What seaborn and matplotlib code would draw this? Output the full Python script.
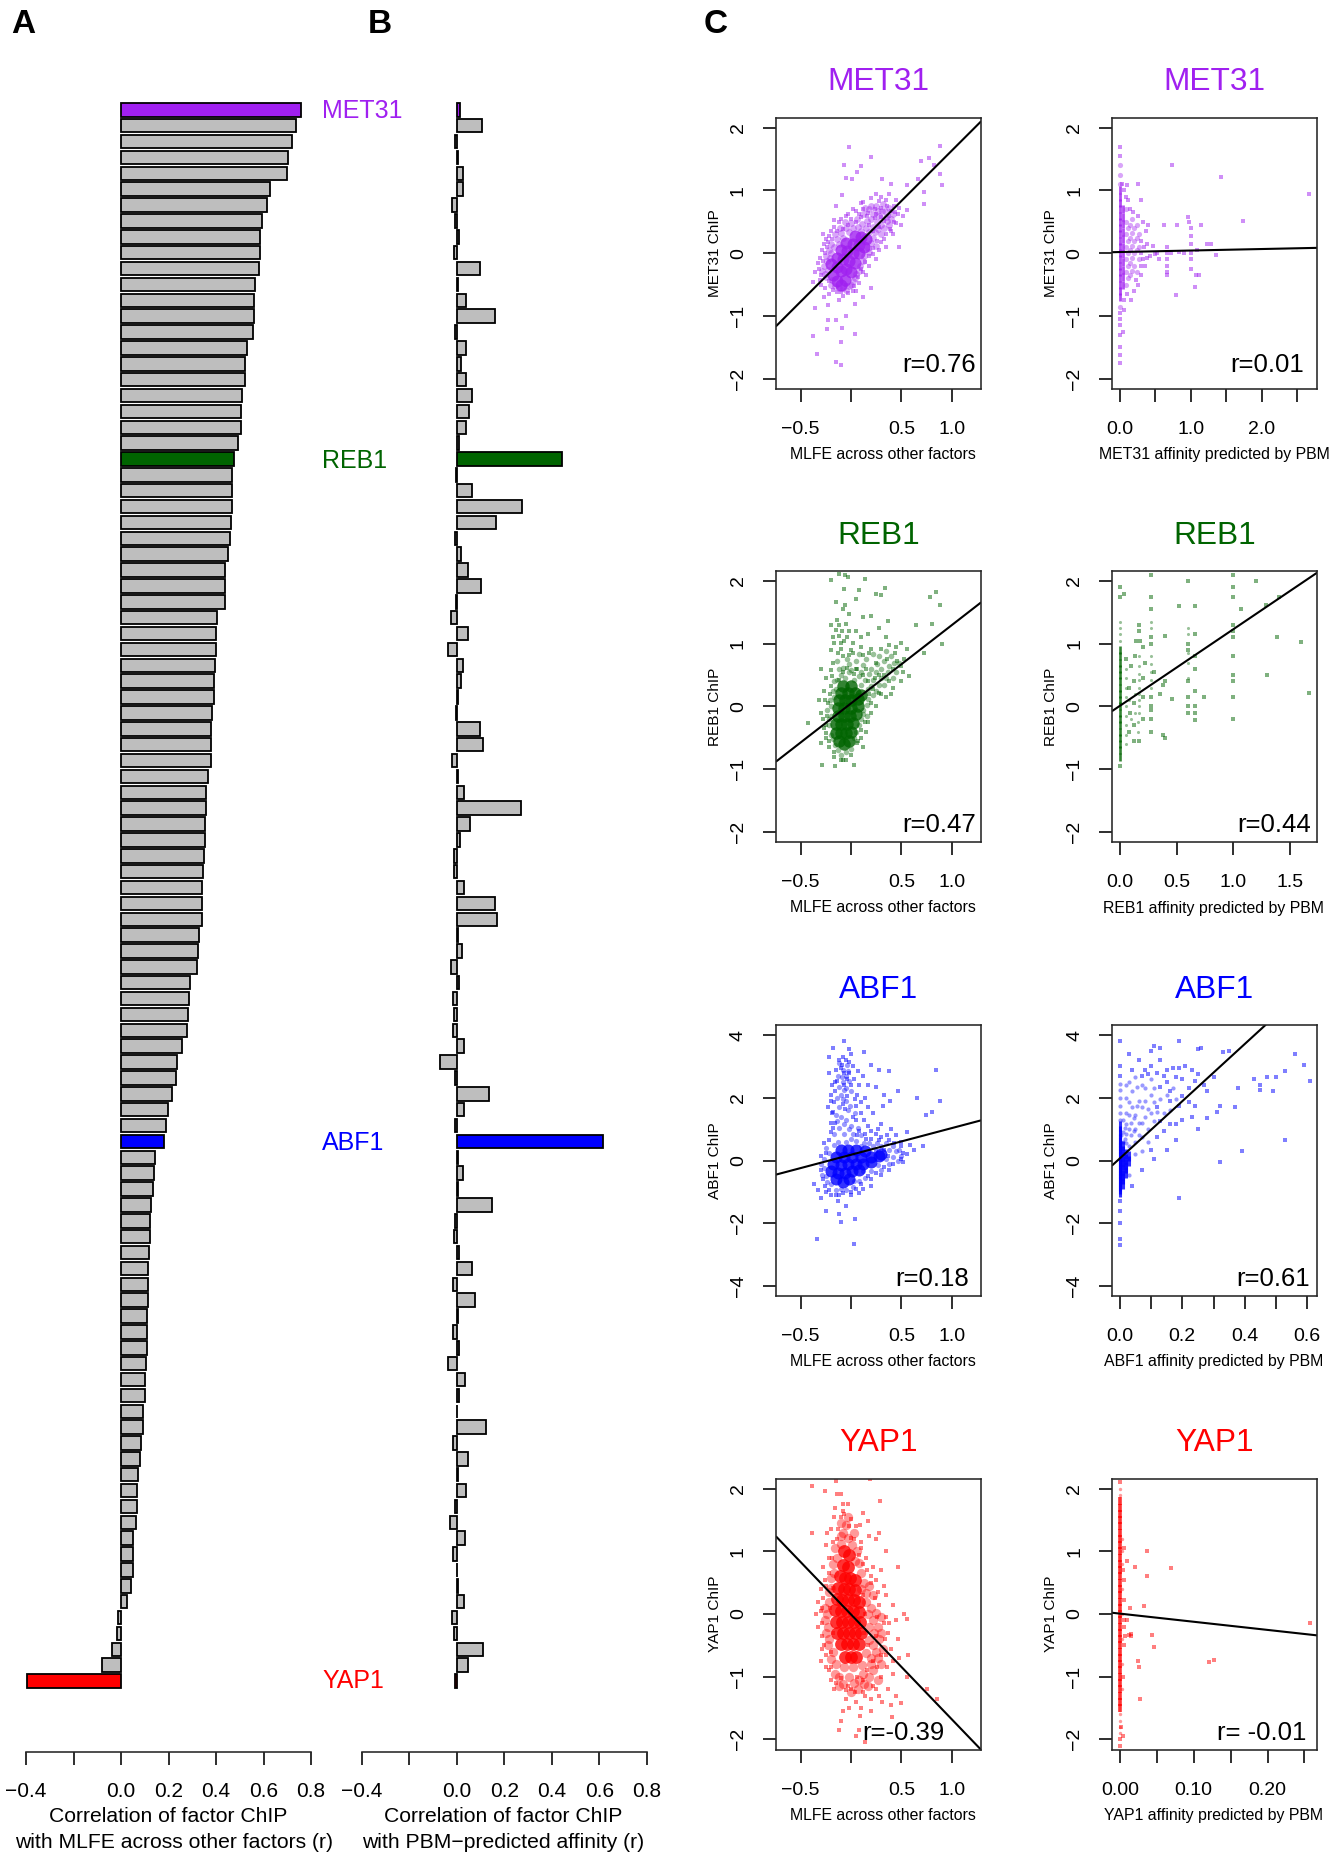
import pandas as pd
import seaborn as sns
import matplotlib
matplotlib.use("Agg")
import matplotlib.pyplot as plt

W, H = 1344, 1854

# panel A, correlation with MLFE, sorted
mlfe_r = [0.759, 0.735, 0.722, 0.704, 0.697, 0.629, 0.614, 0.593, 0.587, 0.585,
          0.582, 0.563, 0.558, 0.558, 0.554, 0.529, 0.523, 0.522, 0.509, 0.507,
          0.505, 0.491, 0.474, 0.469, 0.468, 0.467, 0.463, 0.458, 0.452, 0.439,
          0.439, 0.436, 0.405, 0.401, 0.399, 0.396, 0.392, 0.390, 0.383, 0.381,
          0.381, 0.379, 0.365, 0.359, 0.356, 0.352, 0.352, 0.350, 0.346, 0.343,
          0.341, 0.339, 0.330, 0.326, 0.321, 0.292, 0.286, 0.284, 0.277, 0.255,
          0.237, 0.233, 0.215, 0.197, 0.188, 0.179, 0.142, 0.139, 0.135, 0.128,
          0.122, 0.120, 0.119, 0.115, 0.115, 0.113, 0.111, 0.108, 0.108, 0.104,
          0.102, 0.102, 0.093, 0.091, 0.084, 0.082, 0.071, 0.069, 0.066, 0.064,
          0.051, 0.049, 0.049, 0.044, 0.026, -0.013, -0.016, -0.036, -0.082, -0.394]

# panel B, correlation with PBM affinity, same factor order
pbm_r = [0.012, 0.108, -0.008, 0.006, 0.027, 0.024, -0.020, -0.008, 0.011, -0.011,
         0.098, 0.005, 0.038, 0.162, -0.007, 0.040, 0.016, 0.040, 0.064, 0.053,
         0.038, 0.009, 0.443, -0.005, 0.066, 0.275, 0.166, -0.009, 0.018, 0.049,
         0.102, -0.005, -0.026, 0.046, -0.038, 0.026, 0.016, 0.005, -0.004, 0.098,
         0.109, -0.020, 0.007, 0.031, 0.268, 0.055, 0.015, -0.011, -0.011, 0.029,
         0.162, 0.168, 0.005, 0.022, -0.026, 0.011, -0.015, -0.011, -0.015, 0.029,
         -0.071, -0.009, 0.137, 0.031, -0.007, 0.616, 0.007, 0.027, 0.003, 0.146,
         -0.009, -0.011, 0.011, 0.062, -0.015, 0.078, 0.003, -0.018, 0.009, -0.035,
         0.035, 0.009, 0.002, 0.122, -0.016, 0.049, 0.005, 0.040, -0.009, -0.029,
         0.035, -0.018, 0.001, 0.005, 0.029, -0.020, -0.011, 0.109, 0.047, -0.009]

highlight = {0: "MET31", 22: "REB1", 65: "ABF1", 99: "YAP1"}
colors = {"MET31": "#A020F0", "REB1": "#006400", "ABF1": "#0000FF", "YAP1": "#FF0000", "other": "#BEBEBE"}

# scatter clouds: solid middle, fuzzy edge, lone dots
met31_mlfe_core = [(-0.18,-0.35),(-0.14,-0.45),(-0.1,-0.5),(-0.06,-0.42),(-0.14,-0.22),(-0.2,-0.18),(-0.1,-0.28),(-0.05,-0.25),
    (0.0,-0.3),(-0.14,-0.08),(-0.08,-0.1),(-0.02,-0.12),(0.04,-0.15),(-0.1,0.05),(-0.04,0.03),(0.02,0.0),(0.08,0.0),(-0.05,0.16),
    (0.02,0.14),(0.08,0.13),(0.13,0.1),(0.04,0.28),(0.1,0.26),(0.15,0.22)]
met31_mlfe_halo = [(-0.27,-0.2),(-0.25,-0.05),(-0.22,0.05),(-0.2,0.15),(-0.14,0.22),(-0.1,0.32),(-0.05,0.4),(0.0,0.48),(0.06,0.55),
    (0.12,0.62),(0.18,0.7),(0.25,0.75),(0.32,0.78),(0.38,0.72),(0.2,0.55),(0.28,0.6),(0.35,0.58),(0.42,0.62),(0.15,0.4),(0.22,0.42),
    (0.3,0.45),(0.38,0.45),(0.22,0.25),(0.3,0.3),(0.25,0.12),(0.18,0.02),(0.12,-0.12),(0.08,-0.28),(0.04,-0.4),(0.0,-0.5),(-0.05,-0.58),
    (-0.12,-0.55),(-0.2,-0.5),(-0.25,-0.38),(-0.29,-0.28),(-0.26,-0.33),(-0.23,-0.27),(-0.24,-0.12),(-0.21,-0.08),(-0.19,-0.42),(-0.16,-0.52),
    (-0.08,-0.56),(-0.02,-0.52),(0.02,-0.44),(0.05,-0.33),(0.09,-0.2),(0.13,-0.05),(0.17,0.08),(0.2,0.17),(0.24,0.33),(0.27,0.38),(0.33,0.4),
    (0.36,0.52),(0.4,0.55),(0.31,0.67),(0.27,0.68),(0.22,0.62),(0.16,0.52),(0.11,0.47),(0.07,0.42),(0.02,0.4),(-0.02,0.33),(-0.08,0.24),
    (-0.12,0.15),(-0.17,0.1),(-0.2,0.0),(-0.06,0.5),(-0.11,0.4),(-0.16,0.3),(0.1,0.35),(0.18,0.33),(0.26,0.5),(0.34,0.68),(0.2,0.75),(0.14,0.72)]
met31_mlfe_sparse = [(-0.02,1.69),(0.2,1.53),(-0.07,1.41),(0.1,1.39),(0.06,1.3),(-0.05,1.2),(0.01,1.18),(0.31,1.19),(0.4,1.1),(0.88,1.71),
    (0.77,1.51),(0.69,1.47),(0.82,1.4),(0.88,1.27),(0.9,1.08),(0.66,1.19),(0.72,0.98),(0.55,1.09),(0.72,0.79),(0.55,0.69),(0.48,0.1),
    (-0.09,0.93),(-0.17,0.53),(-0.28,0.31),(-0.38,-0.46),(-0.27,-0.7),(-0.23,-0.83),(-0.12,-0.75),(0.12,-0.7),(0.04,-0.81),(-0.36,-0.88),
    (-0.23,-1.07),(-0.15,-1.07),(-0.05,-1.0),(-0.24,-1.21),(-0.09,-1.2),(0.04,-1.29),(-0.38,-1.32),(-0.1,-1.41),(-0.34,-1.61),(-0.15,-1.74),
    (-0.1,-1.79),(0.48,0.72),(0.45,0.85),(0.38,0.95),(0.3,0.9),(0.25,0.95),(0.1,0.8),(0.02,0.7),(-0.05,0.6),(-0.12,0.5),(-0.2,0.35),
    (-0.27,0.15),(-0.33,-0.15),(-0.36,-0.3),(-0.3,-0.5),(-0.22,-0.65),(-0.08,-0.68),(0.05,-0.6),(0.15,-0.35),(0.25,-0.1),(0.35,0.1),
    (0.42,0.3),(0.5,0.45),(0.52,0.6),(0.2,-0.55),(-0.15,0.75),(-0.32,-0.25),(-0.31,-0.08),(-0.29,0.05),(-0.25,0.22),(-0.22,0.28),(-0.17,0.42),
    (-0.1,0.55),(-0.03,0.62),(0.05,0.68),(0.12,0.82),(0.2,0.88),(0.28,0.83),(0.35,0.85),(0.43,0.75),(0.47,0.62),(0.45,0.48),(0.4,0.35),
    (0.33,0.22),(0.28,0.05),(0.22,-0.02),(0.18,-0.2),(0.12,-0.3),(0.08,-0.47),(0.02,-0.6),(-0.03,-0.64),(-0.14,-0.62),(-0.26,-0.55),(-0.31,-0.42),
    (-0.3,-0.35),(-0.28,-0.12),(-0.26,0.0),(-0.24,0.1),(-0.22,-0.45),(-0.18,-0.58),(-0.1,-0.62),(-0.05,-0.5),(0.03,-0.53),(0.07,-0.38),(0.1,-0.25),(0.14,-0.14),
    (0.18,-0.05),(0.22,0.08),(0.26,0.2),(0.3,0.18),(0.35,0.3),(0.39,0.38),(0.43,0.5),(0.44,0.65),(0.4,0.68),(0.36,0.75),(0.3,0.72),(0.24,0.7),(0.17,0.64),(0.1,0.58),
    (0.05,0.5),(0.0,0.55),(-0.03,0.45),(-0.08,0.38),(-0.14,0.35),(-0.19,0.22),(-0.23,0.18),(0.18,0.45),(0.24,0.56),(0.33,0.52),(0.38,0.6),(0.28,0.42),(0.22,0.35),
    (0.16,0.6),(0.12,0.7),(0.08,0.62),(0.3,0.58),(0.25,0.62)]

met31_pbm_core = [(0.0,-0.7),(0.0,-0.6),(0.0,-0.5),(0.0,-0.4),(0.0,-0.3),(0.0,-0.2),(0.0,-0.1),(0.0,0.0),(0.0,0.1),(0.0,0.2),(0.0,0.3),
    (0.0,0.4),(0.0,0.5),(0.0,0.6),(0.0,0.7),(0.0,0.8),(0.0,0.9),(0.0,1.0),(0.04,-0.5),(0.04,-0.38),(0.04,-0.26),(0.04,-0.14),(0.04,-0.02),(0.04,0.1),
    (0.04,0.22),(0.04,0.34),(0.04,0.46),(0.04,0.58),(0.04,0.7)]
met31_pbm_halo = [(0.09,-0.5),(0.09,-0.3),(0.09,-0.1),(0.09,0.1),(0.09,0.3),(0.09,0.5),(0.09,0.7),(0.14,-0.35),(0.14,-0.15),(0.14,0.05),
    (0.14,0.25),(0.14,0.45),(0.2,-0.2),(0.2,0.0),(0.2,0.2),(0.2,0.4),(0.27,-0.1),(0.27,0.1),(0.27,0.3),(0.0,1.1),(0.0,1.25),(0.0,1.4),(0.0,-0.85),
    (0.11,-0.4),(0.11,-0.2),(0.11,0.0),(0.11,0.2),(0.11,0.4),(0.17,-0.28),(0.17,-0.08),(0.17,0.12),(0.17,0.32),(0.17,0.55),(0.24,-0.3),(0.24,0.05),(0.24,0.25),(0.24,0.45)]
met31_pbm_sparse = [(0.0,1.55),(0.0,1.7),(0.0,-0.95),(0.0,-1.05),(0.0,-1.15),(0.0,-1.3),(0.0,-1.5),(0.0,-1.62),(0.0,-1.75),(0.04,-1.25),
    (0.06,-0.9),(0.03,1.1),(0.1,1.08),(0.12,0.85),(0.25,1.1),(0.3,0.85),(0.25,0.6),(0.33,0.5),(0.37,0.35),(0.38,0.15),(0.33,-0.1),(0.36,-0.2),
    (0.42,-0.05),(0.3,-0.35),(0.25,-0.5),(0.2,-0.6),(0.15,-0.75),(0.5,-0.02),(0.4,0.45),(0.47,0.12),(0.52,0.0),(0.55,-0.1),(0.62,0.45),
    (0.66,0.1),(0.66,0.0),(0.66,-0.1),(0.66,-0.2),(0.66,-0.3),(0.66,-0.35),(0.72,0.0),(0.8,0.45),(0.83,0.02),(0.9,0.0),(0.96,0.58),(0.98,0.5),
    (1.0,0.4),(1.0,0.15),(1.0,0.0),(1.0,-0.1),(1.0,-0.25),(1.0,0.28),(1.07,-0.35),(1.08,0.05),(1.06,-0.54),(1.14,0.45),(1.12,-0.34),(1.23,0.15),
    (1.28,0.15),(1.36,-0.03),(0.79,-0.67),(0.74,1.41),(1.42,1.21),(2.67,0.94),(1.73,0.52),(0.3,0.0),(0.3,0.2),(0.34,0.1),(0.3,-0.2),(0.22,-0.42),(0.18,0.65),
    (0.14,0.7),(0.08,0.9),(0.06,1.0),(0.1,-0.65),(0.06,-0.75),(0.38,-0.08)]

reb1_mlfe_core = [(-0.12,-0.55),(-0.07,-0.6),(-0.02,-0.55),(-0.15,-0.42),(-0.1,-0.42),(-0.05,-0.42),(0.0,-0.4),(-0.15,-0.28),(-0.1,-0.28),
    (-0.04,-0.28),(0.02,-0.26),(-0.13,-0.15),(-0.07,-0.15),(-0.01,-0.15),(0.05,-0.12),(-0.13,-0.02),(-0.07,-0.02),(0.0,-0.02),(0.07,0.0),
    (-0.12,0.1),(-0.06,0.1),(0.0,0.1),(0.07,0.12),(-0.1,0.22),(-0.03,0.22),(0.04,0.22),(0.1,0.18),(-0.08,0.33),(0.0,0.33)]
reb1_mlfe_halo = [(-0.22,-0.3),(-0.2,-0.15),(-0.2,0.0),(-0.17,0.15),(-0.15,0.28),(-0.14,0.42),(-0.06,0.45),(0.03,0.43),(0.1,0.35),(0.17,0.28),
    (0.17,0.12),(0.12,-0.05),(0.1,-0.2),(0.05,-0.4),(0.22,0.42),(0.3,0.45),(0.25,0.25),(0.3,0.6),(0.38,0.65),(0.4,0.8),(0.35,0.45),(0.2,0.6),
    (0.1,0.55),(0.0,0.58),(-0.08,0.62),(-0.14,0.72),(-0.04,0.75),(0.05,0.72),(0.15,0.75),(0.28,0.8),(-0.18,-0.52),(-0.13,-0.7),(-0.05,-0.72),(0.45,0.55),
    (-0.2,-0.45),(-0.22,-0.2),(-0.24,-0.05),(-0.21,0.1),(-0.18,0.25),(-0.17,0.4),(-0.1,0.5),(-0.02,0.55),(0.08,0.48),(0.14,0.42),(0.2,0.32),(0.22,0.18),
    (0.16,0.02),(0.12,-0.12),(0.08,-0.3),(0.03,-0.5),(-0.16,-0.62),(-0.1,-0.78),(0.0,-0.68),(0.25,0.55),(0.33,0.35),(0.37,0.55),(0.43,0.7),(0.33,0.72),
    (0.26,0.68),(0.18,0.52),(0.12,0.66),(-0.12,0.6),(-0.02,0.68),(0.08,0.83),(0.22,0.83),(0.35,0.88),(0.42,0.45),(0.48,0.7),(0.28,0.35),(0.16,-0.15)]
reb1_mlfe_sparse = [(-0.2,2.02),(-0.12,2.12),(-0.06,2.1),(-0.03,2.06),(0.14,2.03),(-0.07,1.88),(0.08,1.85),(0.25,1.8),(0.34,1.89),(0.3,1.77),
    (0.78,1.75),(0.84,1.82),(0.88,1.62),(0.05,1.72),(-0.15,1.67),(-0.06,1.62),(-0.08,1.55),(-0.02,1.47),(0.12,1.43),(0.2,1.45),(0.37,1.37),(0.64,1.3),
    (0.8,1.31),(0.9,1.0),(0.72,0.85),(0.55,0.92),(0.5,1.02),(0.35,1.1),(0.28,1.25),(0.17,1.15),(-0.2,1.3),(-0.12,1.3),(-0.05,1.32),(-0.02,1.2),
    (-0.18,1.1),(-0.12,1.12),(-0.07,1.05),(0.02,1.02),(0.1,1.1),(-0.17,1.02),(-0.2,0.9),(-0.1,0.92),(0.0,0.9),(0.1,0.95),(0.2,0.92),(0.38,0.98),
    (0.45,0.95),(0.52,0.55),(0.57,0.48),(0.5,0.4),(-0.3,0.6),(-0.25,0.45),(-0.32,0.1),(-0.43,-0.27),(-0.3,-0.1),(-0.27,-0.35),(-0.3,-0.58),
    (-0.22,-0.65),(-0.29,-0.93),(-0.16,-0.95),(-0.05,-0.85),(0.03,-0.94),(-0.17,-0.8),(0.1,-0.5),(0.17,-0.25),(0.12,-0.65),(0.25,0.0),(0.35,0.15),(0.42,0.3),
    (-0.15,1.22),(-0.09,1.2),(-0.14,1.38),(-0.1,1.02),(-0.04,1.1),(0.05,1.2),(-0.27,0.25),(-0.26,0.1),(-0.28,-0.2),(-0.25,-0.5),(-0.1,-0.85),(0.07,-0.55),
    (0.15,-0.4),(0.2,-0.1),(0.3,0.2),(0.4,0.2),(0.5,0.65),(0.53,0.75),(-0.25,-0.3),(-0.24,-0.15),(-0.23,0.05),(-0.21,0.2),(-0.2,0.32),(-0.19,0.48),(-0.12,0.42),
    (-0.08,0.55),(-0.04,0.62),(0.03,0.52),(0.06,0.6),(0.12,0.5),(0.17,0.4),(0.22,0.28),(0.28,0.22),(0.33,0.5),(0.38,0.4),(0.42,0.6),(0.46,0.72),(0.44,0.85),(0.36,0.75),
    (0.3,0.92),(0.25,0.7),(0.18,0.85),(0.12,0.82),(0.02,0.85),(-0.08,0.8),(-0.13,0.85),(-0.18,0.7),(-0.2,0.58),(0.2,0.05),(0.14,-0.25),(0.1,-0.38),(0.06,-0.58),(0.0,-0.78),
    (-0.08,-0.85),(-0.17,-0.72),(-0.22,-0.55),(-0.25,-0.42),(0.24,0.45),(0.15,0.6),(0.28,0.5),(-0.02,0.82),(0.05,0.6),(0.18,0.2)]

reb1_pbm_core = [(0.0,-0.8),(0.0,-0.7),(0.0,-0.6),(0.0,-0.5),(0.0,-0.4),(0.0,-0.3),(0.0,-0.2),(0.0,-0.1),(0.0,0.0),(0.0,0.1),(0.0,0.2),(0.0,0.3),
    (0.0,0.4),(0.0,0.5),(0.0,0.6),(0.0,0.7),(0.0,0.8),(0.0,0.9)]
reb1_pbm_halo = [(0.05,-0.6),(0.05,-0.45),(0.05,-0.3),(0.05,-0.15),(0.05,0.0),(0.05,0.15),(0.05,0.3),(0.05,0.45),(0.05,0.6),(0.16,-0.4),(0.16,-0.25),(0.17,-0.1),
    (0.17,-0.0),(0.17,0.1),(0.17,0.2),(0.17,0.3),(0.17,0.42),(0.17,0.52),(0.17,0.65),(0.17,0.8),(0.27,0.3),(0.27,0.42),(0.27,0.55),(0.27,0.68),(0.27,0.8),(0.27,1.25),
    (0.27,1.35),(0.6,0.7),(0.6,0.85),(0.6,1.15),(0.6,1.25),(0.6,0.45),(0.0,1.05),(0.0,1.15),(0.0,1.25),(0.0,1.35),(0.08,0.1),(0.1,-0.2),(0.13,0.2),(0.13,-0.1)]
reb1_pbm_sparse = [(0.0,-0.95),(0.0,1.75),(0.04,1.8),(0.05,0.75),(0.08,-0.4),(0.1,0.65),(0.12,0.4),(0.12,0.05),(0.12,-0.3),(0.12,-0.55),(0.13,0.8),
    (0.14,1.05),(0.17,1.2),(0.17,-0.55),(0.2,0.45),(0.2,0.15),(0.2,-0.2),(0.22,0.7),(0.27,-0.4),(0.27,-0.2),(0.27,0.0),(0.27,0.15),(0.27,1.0),(0.27,1.75),
    (0.27,2.1),(0.27,1.55),(0.3,0.55),(0.35,0.2),(0.38,-0.45),(0.4,0.4),(0.4,1.12),(0.38,0.35),(0.46,0.12),(0.52,1.6),(0.6,2.0),(0.6,0.4),(0.6,0.15),
    (0.6,0.0),(0.6,-0.1),(0.6,1.0),(0.6,0.9),(0.66,0.25),(0.66,-0.1),(0.66,-0.22),(0.66,0.0),(0.66,0.6),(0.66,1.15),(0.66,1.6),(0.74,0.15),(0.66,0.8),
    (1.0,2.1),(1.0,1.9),(1.0,1.75),(1.0,1.2),(1.0,0.8),(1.0,0.5),(1.0,0.4),(1.0,0.15),(1.0,-0.2),(1.3,0.5),(1.07,1.55),(1.2,2.0),(1.29,1.62),(1.38,1.1),
    (1.4,1.75),(1.6,1.03),(1.67,0.22),(0.0,1.9),(0.17,1.3),(0.4,-0.5),(0.08,0.3),(0.09,-0.1),(0.18,1.05),(0.2,0.95),(0.27,-0.05),(0.27,1.1),(1.0,1.3),(1.0,1.1)]

abf1_mlfe_core = [(-0.15,-0.6),(-0.08,-0.7),(-0.02,-0.6),(-0.2,-0.35),(-0.13,-0.4),(-0.06,-0.4),(0.01,-0.35),(0.08,-0.3),(-0.18,-0.12),(-0.1,-0.15),
    (-0.03,-0.12),(0.05,-0.1),(0.12,-0.1),(0.2,-0.05),(-0.15,0.1),(-0.07,0.1),(0.01,0.1),(0.1,0.1),(0.2,0.12),(0.28,0.15),(-0.1,0.35),(-0.03,0.35),
    (0.05,0.32),(0.14,0.3),(0.3,0.22)]
abf1_mlfe_halo = [(-0.08,2.9),(-0.05,2.7),(-0.08,2.5),(-0.05,2.3),(-0.1,2.1),(-0.05,1.9),(-0.12,1.7),(-0.03,1.6),(-0.1,1.4),(-0.05,1.3),(0.0,1.1),
    (-0.12,1.05),(-0.07,0.85),(0.02,0.85),(-0.13,0.6),(-0.05,0.6),(0.05,0.62),(0.13,0.55),(0.22,0.45),(0.3,0.45),(0.38,0.35),(0.45,0.3),(0.42,0.1),
    (0.35,0.05),(0.27,-0.15),(0.12,-0.35),(0.03,-0.65),(-0.1,-0.9),(-0.2,-0.75),(-0.25,-0.5),(-0.27,-0.25),(-0.22,0.25),
    (-0.12,3.1),(-0.04,3.05),(-0.03,2.85),(-0.13,2.7),(-0.09,2.65),(-0.02,2.55),(-0.12,2.35),(-0.07,2.25),(0.0,2.2),(-0.14,2.0),(-0.08,1.95),(-0.01,1.75),
    (0.04,1.5),(-0.15,1.45),(-0.14,1.25),(-0.07,1.15),(-0.02,1.0),(0.07,1.05),(0.1,0.8),(-0.17,0.85),(-0.17,0.5),(0.0,0.7),(0.1,0.45),(0.18,0.55),(0.26,0.55),
    (0.35,0.55),(0.42,0.45),(0.48,0.35),(0.5,0.15),(0.47,0.0),(0.38,-0.1),(0.3,-0.3),(0.2,-0.35),(0.14,-0.55),(0.08,-0.65),(0.02,-0.85),(-0.05,-0.95),
    (-0.15,-0.95),(-0.24,-0.7),(-0.29,-0.45),(-0.3,-0.1),(-0.27,0.05),(-0.25,0.4)]
abf1_mlfe_sparse = [(-0.07,3.8),(-0.18,3.6),(-0.02,3.55),(0.0,3.4),(0.13,3.45),(-0.22,3.3),(-0.12,3.2),(0.02,3.0),(-0.15,2.9),(-0.22,2.8),(0.2,3.05),
    (0.28,2.9),(0.38,2.85),(0.84,2.9),(-0.16,2.5),(0.03,2.6),(0.12,2.7),(0.17,2.4),(0.25,2.35),(-0.2,2.1),(0.06,2.1),(0.14,2.0),(0.33,2.1),(0.47,2.2),
    (0.39,1.9),(0.65,1.98),(0.88,1.9),(0.8,1.55),(0.74,1.45),(-0.23,1.7),(-0.16,1.2),(0.05,1.75),(0.13,1.3),(0.22,1.5),(0.32,1.75),(0.3,1.15),(0.4,1.0),
    (0.2,0.95),(0.45,0.8),(0.55,0.9),(0.58,0.5),(0.62,0.35),(0.71,0.45),(0.3,0.75),(-0.2,0.9),(-0.27,0.55),(-0.3,0.15),(-0.37,-0.75),(-0.33,-0.95),
    (-0.3,-1.2),(-0.2,-1.1),(-0.13,-1.3),(-0.05,-1.45),(-0.25,-1.6),(-0.12,-1.7),(0.04,-1.85),(-0.1,-1.95),(-0.34,-2.5),(0.03,-2.65),(0.0,-1.0),(0.12,-0.9),
    (0.2,-0.6),(0.3,-0.45),(0.38,-0.3),(0.52,-0.05),(0.55,0.2),(-0.19,2.4),(-0.02,3.15),(0.07,2.85),(0.08,2.4),(0.1,1.85),(0.17,1.7),(0.17,1.1),(0.27,1.0),
    (-0.19,1.5),(-0.2,1.9),(0.1,1.5),(0.25,0.85),(0.36,0.8),(0.5,0.6),(-0.12,-1.1),(-0.25,-1.0),(0.08,-1.05),(0.2,-0.8),(-0.3,-0.3),(-0.28,-0.6),(-0.26,-0.8),(-0.22,-0.95),
    (-0.15,-1.1),(-0.08,-1.05),(0.0,-1.1),(0.05,-0.9),(0.1,-0.75),(0.17,-0.5),(0.25,-0.4),(0.33,-0.2),(0.42,-0.1),(0.5,0.05),(0.52,0.25),(0.5,0.45),(0.43,0.55),(0.38,0.65),
    (0.28,0.65),(0.2,0.7),(0.14,0.85),(0.08,0.95),(0.05,1.3),(0.02,1.4),(0.04,1.95),(0.0,2.4),(-0.02,2.8),(-0.08,3.3),(-0.05,3.2),(-0.1,2.95),(-0.14,2.55),(-0.16,2.2),
    (-0.17,1.85),(-0.18,1.55),(-0.2,1.2),(-0.18,1.05),(-0.22,0.65),(-0.25,0.25),(-0.06,1.65),(-0.08,1.8),(-0.04,2.05),(-0.07,2.4),(-0.04,2.6),(-0.07,2.8),(-0.09,3.05),
    (0.06,0.8),(0.15,0.7),(0.25,0.3),(0.33,0.35),(0.37,0.15)]

abf1_pbm_core = [(0.0,-1.0),(0.0,-0.9),(0.0,-0.8),(0.0,-0.7),(0.0,-0.6),(0.0,-0.5),(0.0,-0.4),(0.0,-0.3),(0.0,-0.2),(0.0,-0.1),(0.0,0.0),(0.0,0.1),(0.0,0.2),(0.0,0.3),(0.0,0.4),
    (0.0,0.5),(0.0,0.6),(0.0,0.7),(0.0,0.8),(0.0,0.95),(0.0,1.1),(0.01,-0.75),(0.01,-0.6),(0.01,-0.45),(0.01,-0.3),(0.01,-0.15),(0.01,0.0),(0.01,0.15),(0.01,0.3),(0.01,0.45),
    (0.02,-0.4),(0.02,-0.25),(0.02,-0.1),(0.02,0.05),(0.02,0.2),(0.03,0.0),(0.03,0.15)]
abf1_pbm_halo = [(0.0,1.3),(0.0,1.5),(0.0,1.75),(0.0,2.0),(0.0,2.25),(0.01,0.6),(0.01,0.9),(0.01,1.3),(0.02,0.55),(0.02,0.85),(0.02,1.15),(0.02,1.5),
    (0.02,2.0),(0.03,-0.45),(0.03,0.45),(0.035,0.8),(0.035,1.2),(0.04,1.7),(0.04,2.2),(0.05,0.2),(0.05,0.6),(0.05,1.0),(0.05,1.45),(0.06,1.9),(0.07,0.3),
    (0.07,0.75),(0.07,1.2),(0.07,1.7),(0.07,2.4),(0.09,0.6),(0.09,1.0),(0.1,1.5),(0.1,2.1),(0.1,2.6),(0.005,0.8),(0.015,0.7),(0.015,1.05),(0.03,1.0),(0.03,1.45),
    (0.03,1.85),(0.045,0.95),(0.045,1.35),(0.055,1.75),(0.055,2.35),(0.06,0.8),(0.06,1.2),(0.08,1.4),(0.08,1.9),(0.08,2.3),(0.09,1.65),(0.11,1.25),(0.11,1.85),
    (0.11,2.3),(0.12,1.55),(0.13,1.95),(0.14,1.5),(0.15,2.1),(0.16,1.6),(0.17,2.3),(0.18,1.95),(0.03,2.5),(0.05,2.65),(0.02,2.4),(0.0,2.45)]
abf1_pbm_sparse = [(0.0,3.8),(0.0,3.0),(0.0,2.7),(0.0,-1.3),(0.0,-1.6),(0.0,-2.0),(0.0,-2.5),(0.0,-2.7),(0.04,-0.8),(0.03,3.4),(0.06,3.2),(0.08,2.9),(0.1,3.5),
    (0.11,3.65),(0.13,3.6),(0.13,3.2),(0.12,2.8),(0.15,2.9),(0.17,2.95),(0.19,2.95),(0.21,3.0),(0.23,2.9),(0.25,2.75),(0.18,2.65),(0.15,2.5),(0.13,2.35),
    (0.19,3.8),(0.25,3.55),(0.26,3.6),(0.33,3.45),(0.35,3.5),(0.3,2.65),(0.28,2.2),(0.22,2.3),(0.2,2.05),(0.16,1.9),(0.12,1.7),(0.13,1.25),(0.16,1.15),
    (0.2,1.3),(0.23,1.4),(0.28,1.35),(0.31,1.55),(0.32,1.75),(0.37,1.7),(0.38,2.3),(0.43,2.6),(0.45,2.4),(0.47,2.65),(0.5,2.65),(0.53,2.85),(0.56,3.4),(0.59,3.05),
    (0.61,2.55),(0.49,2.2),(0.45,2.25),(0.12,0.75),(0.15,0.35),(0.18,0.65),(0.11,0.05),(0.07,-0.3),(0.19,-1.2),(0.32,-0.05),(0.39,0.3),(0.53,0.65),(0.25,1.0),(0.1,3.0),
    (0.04,2.9),(0.07,2.7),(0.09,2.75),(0.14,2.7),(0.16,2.2),(0.19,1.75),(0.22,1.85),(0.24,2.55),(0.2,2.6),(0.27,2.4),(0.24,1.75),(0.18,1.15),(0.14,0.95),(0.1,0.35)]

yap1_mlfe_core = [(-0.07,1.0),(-0.02,0.95),(-0.08,0.78),(-0.03,0.75),(-0.11,0.6),(-0.06,0.58),(-0.01,0.58),(0.04,0.55),(-0.13,0.42),(-0.07,0.4),(-0.02,0.4),
    (0.04,0.38),(-0.14,0.24),(-0.09,0.22),(-0.03,0.22),(0.03,0.22),(0.08,0.2),(-0.16,0.06),(-0.1,0.05),(-0.04,0.05),(0.02,0.05),(0.08,0.04),(-0.15,-0.12),(-0.09,-0.12),
    (-0.03,-0.12),(0.03,-0.12),(0.09,-0.13),(-0.14,-0.3),(-0.08,-0.3),(-0.02,-0.3),(0.04,-0.3),(0.1,-0.3),(-0.1,-0.48),(-0.04,-0.48),(0.02,-0.48),(0.08,-0.48),
    (-0.06,-0.68),(0.0,-0.68),(0.05,-0.68)]
yap1_mlfe_halo = [(-0.08,1.3),(-0.03,1.22),(-0.1,1.12),(0.01,1.1),(-0.14,0.9),(0.04,0.85),(-0.17,0.65),(0.1,0.65),(-0.2,0.42),(0.1,0.4),(-0.22,0.2),(0.15,0.2),
    (-0.24,0.0),(0.17,0.0),(0.25,0.02),(-0.23,-0.2),(0.18,-0.2),(0.27,-0.2),(-0.22,-0.4),(0.18,-0.42),(0.28,-0.4),(-0.18,-0.6),(0.15,-0.62),(0.25,-0.6),(-0.15,-0.8),
    (-0.07,-0.85),(0.02,-0.85),(0.11,-0.82),(0.2,-0.8),(-0.12,-1.0),(-0.02,-1.0),(0.08,-1.05),(0.18,-1.0),(0.3,-0.8),(-0.05,1.42),(-0.1,1.25),(0.03,1.3),(-0.16,1.05),
    (0.06,1.0),(-0.18,0.8),(0.08,0.82),(0.13,0.5),(-0.2,0.58),(-0.22,0.35),(0.15,0.33),(0.2,0.1),(-0.26,0.1),(0.22,-0.1),(-0.26,-0.1),(0.23,-0.3),(-0.25,-0.3),(0.22,-0.5),
    (-0.23,-0.5),(-0.2,-0.72),(0.2,-0.7),(0.12,-0.95),(0.27,-0.7),(-0.16,-0.95),(0.03,-1.1),(-0.08,-1.12),(0.13,-1.12),(0.22,-0.9),(0.3,-0.3),(0.32,-0.55),(0.3,-0.05),
    (0.18,0.45),(0.22,0.3),(-0.1,1.45),(-0.03,1.55),(0.0,-1.25),(-0.12,-1.15),(0.07,-1.2),(0.17,-1.15),(0.27,-1.05)]
yap1_mlfe_sparse = [(-0.39,2.05),(-0.15,2.12),(0.19,2.15),(-0.26,1.97),(-0.14,1.92),(-0.1,1.92),(-0.08,1.75),(-0.16,1.7),(-0.03,1.75),(0.29,1.8),(0.12,1.62),(-0.17,1.55),
    (-0.1,1.55),(0.0,1.52),(-0.2,1.35),(-0.02,1.4),(0.17,1.48),(0.09,1.42),(-0.39,1.3),(-0.24,1.3),(0.28,1.3),(0.18,1.25),(-0.25,1.1),(0.1,1.15),(0.25,1.2),(0.35,1.0),
    (-0.28,0.75),(0.15,0.9),(0.22,0.75),(0.3,0.7),(-0.3,0.4),(0.25,0.55),(0.33,0.45),(0.47,0.75),(0.35,0.3),(-0.33,0.2),(0.42,0.15),(-0.35,0.0),(0.53,0.0),(0.35,-0.05),
    (0.45,-0.1),(0.55,-0.08),(-0.33,-0.2),(0.37,-0.3),(0.47,-0.4),(0.4,-0.55),(-0.29,-0.55),(-0.3,-0.75),(0.35,-0.65),(0.48,-0.7),(0.56,-0.65),(-0.2,-1.05),(0.42,-0.95),
    (0.55,-1.0),(-0.17,-1.2),(0.0,-1.2),(0.12,-1.25),(0.25,-1.2),(0.37,-1.2),(0.45,-1.3),(-0.05,-1.35),(0.05,-1.4),(0.2,-1.35),(0.31,-1.4),(0.5,-1.42),(0.4,-1.45),
    (-0.08,-1.55),(0.09,-1.62),(0.2,-1.55),(0.41,-1.65),(0.08,-1.85),(-0.1,-1.7),(-0.12,-1.85),(0.14,-2.05),(0.05,-1.95),(0.85,-1.35),(0.75,-1.2),(-0.28,0.25),(-0.3,0.05),
    (-0.29,-0.35),(-0.26,0.55),(-0.22,0.9),(0.2,0.6),(0.28,0.15),(0.38,-0.15),(0.42,-0.75),(0.3,-1.0),(-0.22,-0.9),(-0.25,-0.65),(0.1,-1.5),(-0.02,-1.5),(0.28,-1.3),(0.14,-1.3),
    (-0.13,1.35),(-0.07,1.6),(-0.14,1.2),(-0.18,1.15),(0.03,1.2),(0.05,1.4),(0.1,1.05),(0.12,0.8),(0.16,0.7),(0.2,0.5),(0.24,0.25),(0.27,0.35),(0.26,-0.05),(0.33,-0.15),
    (0.34,-0.4),(0.3,-0.65),(0.36,-0.85),(0.26,-0.85),(0.22,-1.15),(0.12,-1.05),(0.04,-1.25),(-0.05,-1.22),(-0.15,-1.1),(-0.2,-0.85),(-0.25,-0.85),(-0.27,-0.5),(-0.29,-0.15),
    (-0.29,0.1),(-0.25,0.45),(-0.22,0.65),(-0.19,0.9),(-0.08,1.65),(0.0,1.22),(0.08,0.95),(0.25,-0.35),(0.17,-0.5),(0.22,-0.75),(0.16,-0.9),(0.06,-1.0),(-0.03,-1.15),(-0.1,-1.02),
    (-0.2,-0.6),(-0.18,-0.3),(-0.21,0.1),(-0.18,0.42),(0.14,0.0),(0.13,-0.3),(0.12,0.3)]

yap1_pbm_core = [(0.0,-1.5),(0.0,-1.4),(0.0,-1.3),(0.0,-1.2),(0.0,-1.1),(0.0,-1.0),(0.0,-0.9),(0.0,-0.8),(0.0,-0.7),(0.0,-0.6),(0.0,-0.5),(0.0,-0.4),(0.0,-0.3),(0.0,-0.2),(0.0,-0.1),
    (0.0,0.0),(0.0,0.1),(0.0,0.2),(0.0,0.3),(0.0,0.4),(0.0,0.5),(0.0,0.6),(0.0,0.7),(0.0,0.8),(0.0,0.9),(0.0,1.0),(0.0,1.1),(0.0,1.2),(0.0,1.3),(0.0,1.4),(0.0,1.5),(0.0,1.6),(0.0,1.7),(0.0,1.8)]
yap1_pbm_halo = [(0.0,-1.6),(0.0,-1.7),(0.0,-1.8),(0.0,-1.9),(0.0,1.9),(0.0,2.0),(0.003,1.0),(0.003,0.4),(0.003,0.0),(0.003,-0.4),(0.003,-0.8),(0.003,0.8),(0.003,-1.2),(0.003,1.2)]
yap1_pbm_sparse = [(0.0,2.1),(0.0,-2.0),(0.0,-2.1),(0.002,-1.8),(0.004,-1.0),(0.004,0.7),(0.005,0.55),(0.005,0.22),(0.005,1.05),(0.006,-0.1),(0.006,-0.5),(0.005,-0.2),
    (0.007,-0.35),(0.01,0.85),(0.01,-0.1),(0.012,-0.33),(0.013,0.1),(0.015,-0.32),(0.015,-0.35),(0.021,0.75),(0.032,0.13),(0.036,1.0),(0.036,0.6),(0.044,-0.33),(0.046,-0.53),
    (0.069,0.73),(0.026,-0.85),(0.025,-0.75),(0.027,-1.35),(0.12,-0.77),(0.127,-0.73),(0.257,-0.15),(0.004,-1.95)]

met31_fit_mlfe = [-1.16, 2.096]
met31_fit_pbm = [0.016, 0.085]
reb1_fit_mlfe = [-0.875, 1.655]
reb1_fit_pbm = [-0.07, 2.13]
abf1_fit_mlfe = [-0.447, 1.277]
abf1_fit_pbm = [-0.15, 4.32]
yap1_fit_mlfe = [1.234, -2.16]
yap1_fit_pbm = [0.02, -0.34]

mlfe_xlim = (-0.74, 1.285)
mlfe_ticks = [-0.5, 0.0, 0.5, 1.0]
mlfe_ticklabels = ["\u22120.5", "", "0.5", "1.0"]

sns.set_style("ticks")
plt.rcParams["font.family"] = ["Liberation Sans", "DejaVu Sans"]
plt.rcParams["axes.linewidth"] = 1.15
plt.rcParams["text.color"] = "black"
plt.rcParams["xtick.color"] = "black"
plt.rcParams["ytick.color"] = "black"
plt.rcParams["axes.labelcolor"] = "black"

fig = plt.figure(figsize=(W / 100, H / 100), dpi=100)


def add_ax(l, t, r, b):
    return fig.add_axes([l / W, 1 - b / H, (r - l) / W, (b - t) / H])


def bar_panel(left, right, values, lines):
    groups = [highlight.get(i, "other") for i in range(len(values))]
    df = pd.DataFrame({"rank": range(len(values)), "r": values, "group": groups})
    ax = add_ax(left, 100, right, 1751.7)
    sns.barplot(data=df, x="r", y="rank", hue="group", palette=colors, orient="h", dodge=False,
                width=0.85, saturation=1, edgecolor="black", linewidth=1.3, legend=False, ax=ax)
    ax.set_xlim(-0.4, 0.8)
    ax.set_ylim(103.45, -0.62)
    sns.despine(ax=ax, left=True)
    ax.set_yticks([])
    ax.set_ylabel("")
    ax.set_xticks([-0.4, -0.2, 0.0, 0.2, 0.4, 0.6, 0.8])
    ax.set_xticklabels(["\u22120.4", "", "0.0", "0.2", "0.4", "0.6", "0.8"], fontsize=15)
    ax.tick_params(axis="x", length=9.5, width=1.15, pad=12.5)
    ax.set_xlabel("")
    for text, x, y in lines:
        fig.text(x / W, 1 - y / H, text, fontsize=15.2, ha="center", va="center")
    return ax


bar_panel(26, 311, mlfe_r, [("Correlation of factor ChIP", 168, 1816.5),
                            ("with MLFE across other factors (r)", 174, 1843)])
bar_panel(361.7, 647, pbm_r, [("Correlation of factor ChIP", 503.5, 1816.5),
                              ("with PBM\u2212predicted affinity (r)", 503.5, 1843)])

for name, y in [("MET31", 111.5), ("REB1", 461), ("ABF1", 1143.5), ("YAP1", 1681.5)]:
    fig.text(322 / W, 1 - y / H, name, color=colors[name], fontsize=18, va="center", ha="left")

for letter, x in [("A", 11), ("B", 368), ("C", 704)]:
    fig.text(x / W, 1 - 33 / H, letter, fontsize=24, fontweight="bold", va="baseline", ha="left")


def scatter_panel(box, name, core, halo, sparse, fit_y, fit_x, xlim, ylim, xticks, xticklabels, yticks, yticklabels,
                  xlabel, xlabel_x, r_text, r_right, r_y, sizes, core_marker="o", core_lw=0):
    l, t, r, b = box
    ax = add_ax(l, t, r, b)
    col = colors[name]
    sns.scatterplot(x=[p[0] for p in sparse], y=[p[1] for p in sparse], s=5, color=col, alpha=0.5,
                    linewidth=0, marker="s", ax=ax)
    sns.scatterplot(x=[p[0] for p in halo], y=[p[1] for p in halo], s=sizes[0], color=col, alpha=0.4,
                    linewidth=0, marker="o", ax=ax)
    sns.scatterplot(x=[p[0] for p in core], y=[p[1] for p in core], s=sizes[1], color=col, alpha=0.8,
                    linewidth=core_lw, marker=core_marker, ax=ax)
    sns.lineplot(x=fit_x, y=fit_y, color="black", linewidth=1.5, ax=ax)
    ax.set_xlim(*xlim)
    ax.set_ylim(*ylim)
    ax.set_xticks(xticks)
    ax.set_xticklabels(xticklabels, fontsize=14)
    ax.set_yticks(yticks)
    ax.set_yticklabels(yticklabels, fontsize=14, rotation=90, va="center")
    ax.tick_params(axis="x", length=9.1, width=1.15, pad=14)
    ax.tick_params(axis="y", length=9.6, width=1.15, pad=11.5)
    ax.set_xlabel(xlabel, fontsize=11.45, va="center")
    ax.xaxis.set_label_coords((xlabel_x - l) / (r - l), -65.7 / (b - t))
    ax.set_ylabel(name + " ChIP", fontsize=11.1, va="center")
    ax.yaxis.set_label_coords(-61.5 / (r - l), 0.5)
    fig.text((l + (r - l) / 2) / W, 1 - (t - 35.5) / H, name, color=col, fontsize=22.8, ha="center", va="center")
    fig.text(r_right / W, 1 - r_y / H, r_text, fontsize=18.5, ha="right", va="center")
    return ax


l_box = (776.3, 980.7)
r_box = (1112.4, 1316.8)
rows = [(117.7, 389.0), (571.0, 842.3), (1025.0, 1296.0), (1478.7, 1749.7)]
y2 = (-2.165, 2.16)
y2_ticks = [-2, -1, 0, 1, 2]
y2_labels = ["\u22122", "\u22121", "0", "1", "2"]
y4 = (-4.32, 4.32)
y4_ticks = [-4, -2, 0, 2, 4]
y4_labels = ["\u22124", "\u22122", "0", "2", "4"]

scatter_panel((l_box[0], rows[0][0], l_box[1], rows[0][1]), "MET31", met31_mlfe_core, met31_mlfe_halo, met31_mlfe_sparse,
              met31_fit_mlfe, list(mlfe_xlim), mlfe_xlim, y2, mlfe_ticks, mlfe_ticklabels, y2_ticks, y2_labels,
              "MLFE across other factors", 882.7, "r=0.76", 975.6, 365.5, (24, 75))
scatter_panel((r_box[0], rows[0][0], r_box[1], rows[0][1]), "MET31", met31_pbm_core, met31_pbm_halo, met31_pbm_sparse,
              met31_fit_pbm, [-0.106, 2.776], (-0.106, 2.776), y2, [0, 0.5, 1, 1.5, 2, 2.5], ["0.0", "", "1.0", "", "2.0", ""],
              y2_ticks, y2_labels, "MET31 affinity predicted by PBM", 1213.9, "r=0.01", 1303.8, 365.5, (14, 36), "|", 2.0)

scatter_panel((l_box[0], rows[1][0], l_box[1], rows[1][1]), "REB1", reb1_mlfe_core, reb1_mlfe_halo, reb1_mlfe_sparse,
              reb1_fit_mlfe, list(mlfe_xlim), mlfe_xlim, y2, mlfe_ticks, mlfe_ticklabels, y2_ticks, y2_labels,
              "MLFE across other factors", 882.7, "r=0.47", 975.6, 825.5, (16, 80))
scatter_panel((r_box[0], rows[1][0], r_box[1], rows[1][1]), "REB1", reb1_pbm_core, reb1_pbm_halo, reb1_pbm_sparse,
              reb1_fit_pbm, [-0.066, 1.735], (-0.066, 1.735), y2, [0, 0.5, 1, 1.5], ["0.0", "0.5", "1.0", "1.5"],
              y2_ticks, y2_labels, "REB1 affinity predicted by PBM", 1213.9, "r=0.44", 1311.3, 825.5, (5, 36), "|", 1.9)

scatter_panel((l_box[0], rows[2][0], l_box[1], rows[2][1]), "ABF1", abf1_mlfe_core, abf1_mlfe_halo, abf1_mlfe_sparse,
              abf1_fit_mlfe, list(mlfe_xlim), mlfe_xlim, y4, mlfe_ticks, mlfe_ticklabels, y4_ticks, y4_labels,
              "MLFE across other factors", 882.7, "r=0.18", 969.4, 1279.5, (14, 75))
scatter_panel((r_box[0], rows[2][0], r_box[1], rows[2][1]), "ABF1", abf1_pbm_core, abf1_pbm_halo, abf1_pbm_sparse,
              abf1_fit_pbm, [-0.024, 0.4666], (-0.024, 0.631), y4, [0, 0.1, 0.2, 0.3, 0.4, 0.5, 0.6],
              ["0.0", "", "0.2", "", "0.4", "", "0.6"], y4_ticks, y4_labels, "ABF1 affinity predicted by PBM", 1213.9,
              "r=0.61", 1309.7, 1279.5, (9, 50), "|", 2.2)

scatter_panel((l_box[0], rows[3][0], l_box[1], rows[3][1]), "YAP1", yap1_mlfe_core, yap1_mlfe_halo, yap1_mlfe_sparse,
              yap1_fit_mlfe, list(mlfe_xlim), mlfe_xlim, y2, mlfe_ticks, mlfe_ticklabels, y2_ticks, y2_labels,
              "MLFE across other factors", 882.7, "r=-0.39", 944.4, 1733.5, (45, 85))
scatter_panel((r_box[0], rows[3][0], r_box[1], rows[3][1]), "YAP1", yap1_pbm_core, yap1_pbm_halo, yap1_pbm_sparse,
              yap1_fit_pbm, [-0.0102, 0.2667], (-0.0102, 0.2667), y2, [0, 0.05, 0.1, 0.15, 0.2, 0.25],
              ["0.00", "", "0.10", "", "0.20", ""], y2_ticks, y2_labels, "YAP1 affinity predicted by PBM", 1213.9,
              "r= -0.01", 1306.3, 1733, (6, 36), "|", 2.6)

fig.savefig("out.png", dpi=100)
